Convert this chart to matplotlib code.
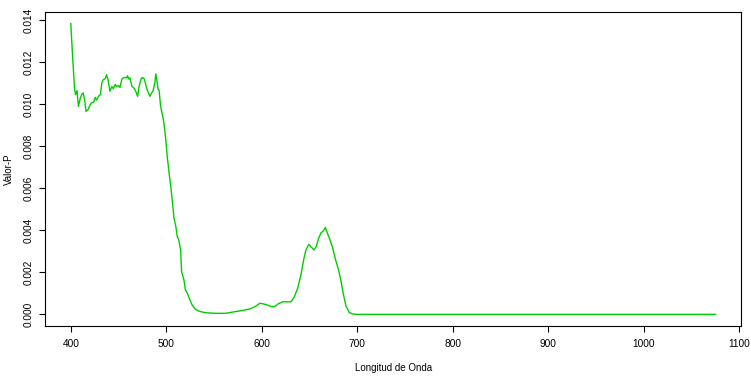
import matplotlib
matplotlib.use("Agg")
import matplotlib.pyplot as plt

# wavelength (nm) and p-value
onda = [400, 402, 404, 405, 406.5, 408, 410, 412, 413, 414.5, 416, 418, 420, 421.5,
        424, 425.5, 427, 429, 431, 432.5, 434, 436, 437.5, 439, 441, 443, 444.5,
        446.5, 448, 450, 451.5, 453.5, 456, 458.5, 459.5, 460.5, 462, 464, 466, 468,
        470, 471.5, 473.5, 475, 477, 478.5, 480.5, 483, 484.5, 486, 488, 489, 490,
        491.5, 492.5, 494, 496, 497.5, 499.5, 501, 503, 505, 506.5, 508, 510, 511.5,
        513, 515, 516, 518.5, 520, 522, 524, 527, 530.5, 535, 541, 551, 562, 572,
        579, 587.5, 593, 598, 601.5, 605, 610, 613.5, 617, 622, 626, 630.5, 634,
        637.5, 641, 644, 646, 649, 652, 654.5, 657, 659.5, 662, 664.5, 666.5, 668.3,
        670.7, 674, 677, 680.5, 683, 685, 688, 691.5, 695, 700, 750, 800, 900,
        1000, 1075]
valor_p = [0.01384, 0.01220, 0.01070, 0.01046, 0.01065, 0.00990, 0.01030, 0.01050,
           0.01054, 0.01020, 0.00966, 0.00974, 0.00995, 0.01006, 0.01010, 0.01033,
           0.01020, 0.01038, 0.01046, 0.01101, 0.01117, 0.01122, 0.01141, 0.01117,
           0.01062, 0.01085, 0.01074, 0.01094, 0.01085, 0.01089, 0.01080, 0.01120,
           0.01128, 0.01126, 0.01136, 0.01120, 0.01126, 0.01085, 0.01078, 0.01062,
           0.01038, 0.01085, 0.01120, 0.01128, 0.01120, 0.01094, 0.01062, 0.01038,
           0.01054, 0.01062, 0.01102, 0.01145, 0.01117, 0.01070, 0.01066, 0.00990,
           0.00950, 0.00910, 0.00830, 0.00750, 0.00670, 0.00595, 0.00530, 0.00460,
           0.00418, 0.00370, 0.00355, 0.00307, 0.00204, 0.00164, 0.00116, 0.00101,
           0.00077, 0.00045, 0.00024, 0.00014, 0.00008, 0.00005, 0.00005, 0.00013,
           0.00018, 0.00026, 0.00037, 0.00053, 0.00050, 0.00046, 0.00037, 0.00037,
           0.00050, 0.00060, 0.00060, 0.00060, 0.00083, 0.00124, 0.00190, 0.00265,
           0.00304, 0.00333, 0.00319, 0.00307, 0.00323, 0.00363, 0.00388, 0.00398,
           0.00414, 0.00390, 0.00363, 0.00319, 0.00263, 0.00208, 0.00156, 0.00104,
           0.00041, 0.00009, 0.00002, 0.0, 0.0, 0.0, 0.0, 0.0, 0.0]

y_ticks = [0.000, 0.002, 0.004, 0.006, 0.008, 0.010, 0.012, 0.014]
x_ticks = [400, 500, 600, 700, 800, 900, 1000, 1100]

plt.rcParams['font.family'] = ['Liberation Sans', 'DejaVu Sans']

fig = plt.figure(figsize=(7.51, 3.83), dpi=100)
ax = fig.add_axes([0.0599, 0.1488, 0.9273, 0.8199])
ax.plot(onda, valor_p, color='#00cd00', lw=1.0)

# R-style 4% padding around the data range
x0, x1 = min(onda), max(onda)
y0, y1 = min(valor_p), max(valor_p)
dx, dy = (x1 - x0) * 0.04, (y1 - y0) * 0.04
ax.set_xlim(x0 - dx, x1 + dx)
ax.set_ylim(y0 - dy, y1 + dy)

ax.set_xticks(x_ticks)
ax.set_yticks(y_ticks)
ax.set_yticklabels(['%.3f' % v for v in y_ticks], rotation=90, va='center')
ax.tick_params(direction='out', length=4.3, width=0.8, labelsize=7.3, pad=5)
ax.tick_params(axis='y', pad=4)
for s in ax.spines.values():
    s.set_linewidth(0.8)

ax.set_xlabel('Longitud de Onda', fontsize=7, labelpad=10)
ax.set_ylabel('Valor-P', fontsize=7, labelpad=7)

fig.savefig('out.png', dpi=100)
